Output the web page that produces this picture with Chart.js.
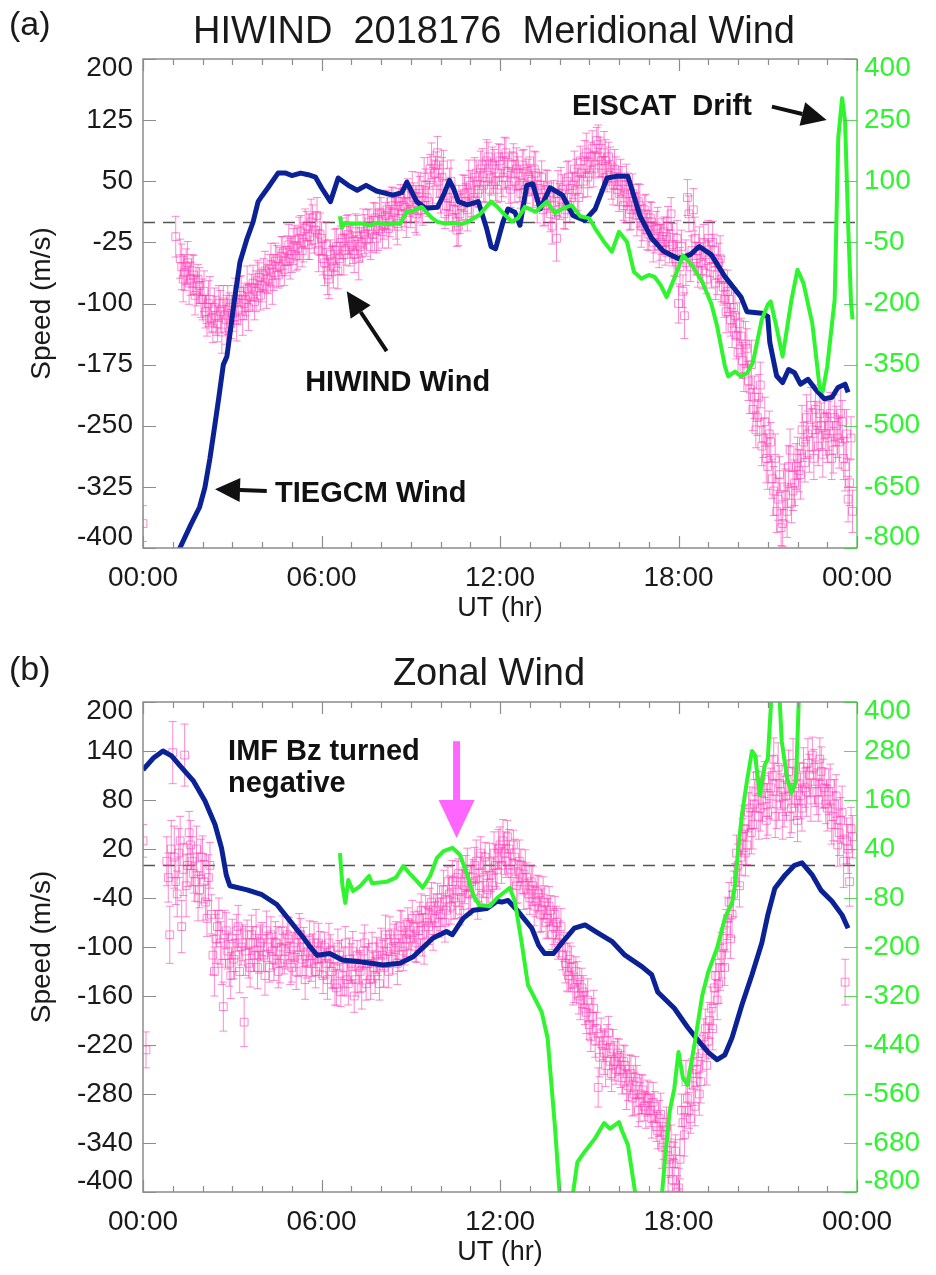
<!DOCTYPE html>
<html>
<head>
<meta charset="utf-8">
<title>HIWIND 2018176</title>
<script src="https://cdn.jsdelivr.net/npm/chart.js@4.4.1/dist/chart.umd.min.js"></script>
<style>
  body { margin: 0; background: #fff; font-family: "Liberation Sans", Arial, sans-serif; color: #1a1a1a; }
  #page { position: relative; width: 936px; height: 1275px; overflow: hidden; }
  canvas { position: absolute; left: 0; }
  .txt { position: absolute; line-height: 1; white-space: pre; }
</style>
</head>
<body>
<div id="page">
  <canvas id="chartA" width="936" height="640" style="top:0"></canvas>
  <canvas id="chartB" width="936" height="635" style="top:640px"></canvas>
  <div class="txt" style="left:9px;top:6px;font-size:34px">(a)</div>
  <div class="txt" style="left:494px;top:11px;font-size:38px;transform:translateX(-50%)">HIWIND  2018176  Meridional Wind</div>
  <div class="txt" style="left:9px;top:651px;font-size:34px">(b)</div>
  <div class="txt" style="left:489px;top:653px;font-size:38px;transform:translateX(-50%)">Zonal Wind</div>
</div>
<script>
// ---- data ----
// HIWIND samples: one row per hour, 10 values per row.
// first list at hh.0, hh.1 ... ; second list at the half steps hh.05, hh.15 ...
var HW_STEP = 0.1;

// (a) meridional
var hwA_speed = [
  -370, null, null, null, null, null, null, null, null, null,
  null, -18, null, -55, -62, -50, -70, -65, -85, -78,
  -95, -110, -100, -118, -105, -125, -110, -98, -120, -105,
  -112, -95, -108, -90, -100, -82, -92, -75, -85, -68,
  -78, -60, -70, -52, -62, -45, -55, -38, -48, -28,
  -40, -22, -32, -12, -25, -5, -18, 5, -10, -35,
  -20, -50, -65, -40, -55, -30, -45, -20, -35, -15,
  -28, -40, -18, -30, -8, -22, 0, -15, 5, -10,
  10, -5, 15, 0, 20, 5, 25, 10, 18, 35,
  15, 30, 10, 40, 20, 45, 25, 75, 60, 85,
  35, 70, 20, 40, 5, 25, -5, 20, 35, 15,
  45, 30, 60, 40, 70, 50, 80, 55, 65, 40,
  75, 55, 85, 45, 70, 50, 60, 35, 65, 45,
  75, 40, 60, 30, 55, 20, 45, 10, 35, -20,
  25, 40, 15, 55, 30, 65, 40, 75, 50, 85,
  60, 90, 70, 95, 75, 85, 55, 70, 45, 60,
  35, 50, 25, 40, 15, 30, 5, 20, -5, 10,
  -15, 0, -20, -8, -25, -12, -18, -30, -28, -45,
  -100, -30, -115, 30, -55, 15, -45, -30, -60, -40,
  -20, -55, -35, -65, -45, -80, -110, -95, -130, -115,
  -160, -140, -180, -155, -205, -230, -255, -215, -275, -245,
  -300, -270, -330, -355, -310, -370, -335, -300, -345, -320,
  -290, -310, -270, -240, -285, -255, -230, -275, -250, -240,
  -265, -235, -280, -250, -270, -245, -300, -340, -265, null
];
var hwA_speed_half = [
  null, null, null, null, null, null, null, null, null, null,
  null, null, -45, -70, -55, -75, -60, -90, -70, -95,
  -85, -120, -95, -130, -115, -100, -135, -115, -108, -125,
  -100, -120, -85, -115, -95, -105, -80, -98, -72, -90,
  -65, -82, -58, -75, -48, -65, -42, -58, -35, -45,
  -30, -42, -20, -35, -8, -28, 0, -22, 8, -15,
  -45, -28, -70, -48, -35, -60, -25, -40, -10, -30,
  -35, -12, -45, -25, -15, -5, -30, 2, -20, 12,
  -12, 8, -8, 25, 12, -2, 30, 20, 5, 25,
  40, 5, 35, 15, 55, 30, 65, 45, 70, 50,
  55, 10, 30, 50, 15, -10, 10, 40, 25, 50,
  25, 55, 35, 65, 45, 75, 40, 70, 50, 80,
  45, 80, 60, 40, 80, 65, 45, 70, 40, 55,
  50, 65, 25, 45, 15, 40, 30, -5, 20, 35,
  45, 10, 50, 20, 45, 55, 30, 60, 80, 55,
  80, 65, 100, 80, 60, 75, 80, 50, 65, 40,
  55, 20, 45, 10, 35, 20, 25, -5, 15, -10,
  5, -25, -5, -30, -18, -35, -5, 10, -40, -20,
  -55, -85, -50, 10, -35, -20, -60, -50, -25, -70,
  -45, -25, -75, -50, -70, -95, -85, -120, -105, -140,
  -125, -170, -150, -195, -175, -215, -240, -200, -265, -290,
  -260, -315, -290, -340, -375, -325, -355, -280, -330, -300,
  -305, -255, -295, -260, -225, -290, -250, -235, -285, -260,
  -250, -290, -240, -265, -235, -290, -260, -320, -355, null
];
var hwA_err = [
  22, 0, 0, 0, 0, 0, 0, 0, 0, 0,
  0, 25, 24, 28, 22, 26, 20, 24, 18, 22,
  25, 20, 28, 18, 24, 22, 26, 20, 30, 18,
  22, 26, 18, 24, 20, 28, 16, 22, 25, 18,
  20, 24, 18, 26, 22, 16, 24, 20, 18, 25,
  22, 18, 26, 20, 24, 18, 28, 16, 22, 26,
  20, 28, 24, 18, 26, 22, 20, 25, 18, 24,
  16, 22, 26, 18, 24, 20, 16, 22, 18, 25,
  20, 16, 24, 18, 22, 26, 16, 20, 24, 18,
  22, 18, 26, 16, 24, 20, 18, 22, 16, 20,
  24, 18, 22, 26, 16, 20, 24, 18, 22, 26,
  18, 24, 16, 22, 20, 26, 18, 22, 24, 16,
  20, 24, 18, 22, 16, 26, 20, 18, 24, 22,
  18, 22, 26, 16, 20, 24, 18, 22, 16, 28,
  22, 18, 24, 20, 16, 22, 26, 18, 20, 24,
  18, 22, 16, 24, 20, 26, 18, 22, 24, 20,
  22, 18, 26, 20, 24, 16, 22, 26, 18, 24,
  20, 24, 18, 26, 22, 18, 24, 20, 26, 22,
  24, 20, 28, 22, 18, 26, 20, 24, 22, 18,
  22, 26, 20, 24, 28, 22, 26, 20, 24, 28,
  26, 22, 28, 24, 30, 26, 22, 28, 24, 30,
  28, 24, 30, 26, 22, 28, 32, 26, 24, 28,
  26, 30, 24, 28, 22, 26, 30, 24, 28, 26,
  30, 26, 28, 24, 32, 26, 30, 28, 26, 0
];
var tgA_hour = [1.2, 1.24, 1.6, 1.9, 2.08, 2.25, 2.42, 2.55, 2.7, 2.82, 2.95, 3.06, 3.26, 3.5, 3.7,
  3.87, 4.0, 4.2, 4.54, 4.8, 5.0, 5.3, 5.55, 5.8, 6.0, 6.3, 6.56, 6.9, 7.2, 7.5, 7.85, 8.4, 8.7, 8.87,
  9.2, 9.5, 9.9, 10.1, 10.3, 10.45, 10.6, 10.9, 11.27, 11.55, 11.7, 11.85, 11.95, 12.1, 12.27, 12.5,
  12.67, 12.9, 13.1, 13.35, 13.68, 14.1, 14.45, 14.85, 15.2, 15.6, 15.9, 16.3, 16.7, 17.1, 17.5, 18.0,
  18.4, 18.7, 19.1, 19.56, 20.1, 20.3, 20.8, 21.0, 21.07, 21.3, 21.5, 21.7, 21.9, 22.1, 22.35, 22.6,
  22.9, 23.16, 23.36, 23.6, 23.7];
var tgA_speed = [-410, -400, -372, -350, -326, -290, -248, -215, -175, -165, -130, -99, -49, -20, 0,
  25, 32, 42, 60, 60, 57, 60, 58, 55, 42, 25, 54, 45, 39, 45, 38, 33, 36, 49,
  25, 17, 18, 33, 51, 40, 25, 21, 25, -8, -30, -33, -20, 0, 16, 12,
  -4, 45, 47, 16, 42, 33, 8, 2, 16, 54, 56, 56, 8, -20, -36, -45,
  -40, -30, -40, -67, -92, -110, -112, -116, -148, -189, -197, -181, -185, -199, -193, -205,
  -217, -215, -203, -199, -209];
var esA_hour = [6.62, 6.68, 6.8, 7.0, 7.3, 7.6, 7.9, 8.2, 8.5, 8.64, 8.87, 9.1, 9.37, 9.65, 9.9,
  10.2, 10.4, 10.7, 10.9, 11.3, 11.7, 11.9, 12.1, 12.4, 12.6, 12.84, 13.2, 13.57, 13.85, 14.1,
  14.4, 14.7, 15.0, 15.2, 15.5, 15.76, 16.0, 16.27, 16.5, 16.76, 17.0, 17.2, 17.4, 17.6, 17.9,
  18.15, 18.45, 18.8, 19.1, 19.3, 19.56, 19.67, 19.9, 20.1, 20.3, 20.5, 20.8, 21.0, 21.1, 21.3,
  21.5, 21.8, 22.0, 22.2, 22.5, 22.75, 22.85, 23.0, 23.25, 23.37, 23.5, 23.6, 23.7, 23.8, 23.85];
var esA_speed = [14, -14, -2, -5, -3, -8, -2, -6, -3, -5, 25, 28, 37, 14, 0,
  -4, -2, -5, 0, 17, 50, 38, 22, 1, 9, 37, 25, 50, 22, 33,
  41, 14, 9, -16, -49, -73, -24, -49, -122, -139, -130, -135, -155, -184, -131,
  -82, -106, -147, -200, -256, -354, -379, -367, -379, -371, -345, -239, -203, -195, -260,
  -330, -190, -117, -150, -250, -410, -415, -354, -190, 206, 304, 246, 0, -198, -239];
var yA_ticks = [200, 125, 50, -25, -100, -175, -250, -325, -400];
var yA_rticks = [400, 250, 100, -50, -200, -350, -500, -650, -800];

// (b) zonal
var hwB_speed = [
  30, -226, null, null, null, null, null, null, 5, -85,
  138, -20, 15, -75, 135, 0, 25, -10, 20, -30,
  10, -45, -15, -60, -130, -75, -95, -173, -80, -120,
  -90, -110, -75, -100, -192, -85, -125, -95, -80, -110,
  -90, -135, -100, -85, -115, -95, -120, -80, -105, -90,
  -125, -95, -110, -85, -100, -120, -90, -110, -130, -95,
  -115, -100, -140, -105, -125, -150, -110, -135, -95, -145,
  -120, -160, -110, -130, -105, -145, -120, -100, -135, -115,
  -95, -125, -105, -85, -115, -95, -110, -80, -100, -70,
  -90, -75, -95, -65, -85, -55, -75, -45, -65, -40,
  -60, -30, -55, -35, -20, -45, -10, -40, -25, -5,
  -35, -15, 5, -25, -8, 10, -30, -12, 15, -5,
  25, 30, 5, 20, -10, 10, -20, 0, -30, -15,
  -40, -25, -45, -35, -55, -45, -65, -55, -75, -70,
  -90, -110, -120, -135, -125, -150, -140, -165, -155, -180,
  -195, -185, -215, -272, -205, -230, -215, -240, -225, -250,
  -235, -260, -245, -270, -255, -280, -265, -290, -275, -300,
  -285, -310, -295, -325, -305, -340, -320, -360, -385, -350,
  -395, -300, -330, -285, -310, -270, -250, -280, -230, -200,
  -215, -175, -150, -165, -125, -100, -80, -45, -60, -20,
  0, 10, 45, 25, 70, 50, 90, 60, 80, 105,
  65, 95, 130, 75, 100, 60, 85, 115, 70, 95,
  55, 85, 120, 90, 110, 135, 100, 80, 115, 95,
  70, 100, 60, 85, 40, 65, -143, 20, 45, null
];
var hwB_speed_half = [
  null, null, null, null, null, null, null, null, -15, 20,
  10, -35, 30, -5, -25, 40, 5, -20, -40, 10,
  -20, -65, 0, -110, -90, -60, -120, -85, -105, -135,
  -115, -80, -130, -95, -105, -120, -85, -110, -125, -95,
  -110, -80, -125, -105, -95, -130, -100, -115, -85, -120,
  -100, -130, -85, -115, -140, -105, -120, -95, -115, -105,
  -135, -120, -95, -130, -145, -100, -155, -125, -140, -115,
  -105, -140, -125, -150, -95, -120, -140, -125, -110, -145,
  -110, -85, -130, -100, -90, -120, -75, -105, -90, -85,
  -65, -100, -80, -55, -95, -70, -50, -80, -55, -70,
  -45, -70, -20, -50, -40, -15, -55, -30, -10, -35,
  -20, 0, -40, 15, -15, -35, 5, -25, 0, 20,
  0, 15, 35, -5, 25, -25, 5, -15, -5, -35,
  -20, -50, -30, -60, -40, -70, -50, -85, -60, -95,
  -75, -100, -130, -115, -145, -130, -160, -150, -175, -165,
  -210, -175, -200, -235, -220, -245, -205, -255, -240, -230,
  -250, -240, -275, -250, -285, -260, -300, -280, -295, -285,
  -300, -290, -320, -310, -345, -330, -375, -340, -365, -400,
  -360, -315, -265, -300, -255, -295, -240, -265, -210, -245,
  -190, -200, -135, -145, -110, -125, -65, -90, -35, 15,
  -25, 35, 15, 65, 40, 75, 110, 70, 95, 55,
  85, 110, 60, 120, 90, 75, 105, 60, 125, 80,
  100, 70, 95, 125, 80, 120, 90, 130, 100, 75,
  90, 50, 75, 25, 55, 5, 30, -20, 35, null
];
var hwB_err = [
  20, 22, 0, 0, 0, 0, 0, 0, 30, 35,
  38, 28, 30, 32, 38, 26, 30, 24, 28, 22,
  26, 22, 28, 24, 30, 20, 26, 30, 22, 28,
  24, 20, 26, 22, 30, 18, 24, 20, 26, 22,
  20, 24, 18, 22, 26, 20, 24, 18, 22, 26,
  18, 22, 26, 20, 24, 18, 22, 26, 20, 24,
  22, 18, 24, 20, 26, 22, 18, 24, 20, 26,
  24, 20, 18, 26, 22, 20, 24, 18, 22, 20,
  18, 24, 20, 22, 18, 26, 20, 24, 22, 18,
  22, 18, 24, 20, 26, 18, 22, 24, 20, 18,
  20, 24, 18, 22, 26, 20, 18, 24, 22, 26,
  18, 22, 26, 20, 24, 18, 22, 20, 26, 24,
  22, 26, 20, 24, 18, 22, 26, 20, 24, 18,
  20, 24, 18, 22, 26, 20, 24, 18, 22, 20,
  22, 18, 24, 20, 26, 18, 22, 24, 20, 26,
  18, 22, 20, 24, 18, 26, 20, 22, 24, 18,
  22, 20, 24, 18, 22, 26, 20, 24, 18, 22,
  20, 24, 18, 22, 26, 20, 24, 22, 26, 20,
  24, 20, 26, 22, 18, 24, 20, 26, 22, 24,
  22, 26, 20, 24, 28, 22, 26, 24, 28, 22,
  26, 22, 28, 24, 26, 30, 24, 28, 26, 22,
  28, 24, 26, 30, 22, 28, 24, 26, 30, 24,
  26, 28, 24, 30, 26, 22, 28, 26, 30, 24,
  28, 24, 30, 26, 28, 32, 28, 30, 26, 0
];
var tgB_hour = [0, 0.34, 0.67, 0.96, 1.24, 1.7, 2.08, 2.42, 2.64, 2.8, 2.92, 3.5, 4.0, 4.5, 4.94,
  5.4, 5.6, 5.85, 6.28, 6.7, 7.3, 8.07, 8.64, 9.08, 9.4, 9.75, 10.2, 10.4, 10.76, 11.1,
  11.55, 11.9, 12.06, 12.27, 12.6, 13.07, 13.3, 13.5, 13.8, 14.08, 14.5, 14.86, 15.3, 15.76, 16.2,
  16.77, 17.1, 17.3, 17.86, 18.3, 18.65, 19.0, 19.3, 19.56, 19.8, 20.13, 20.47, 20.8, 21.0, 21.24,
  21.58, 21.9, 22.15, 22.5, 22.8, 23.16, 23.5, 23.7];
var tgB_speed = [117, 131, 140, 134, 122, 103, 79, 50, 21, -12, -25, -30, -36, -48, -68,
  -89, -99, -110, -108, -116, -118, -122, -120, -112, -101, -89, -81, -85, -65, -55,
  -53, -44, -45, -43, -56, -77, -98, -108, -108, -95, -77, -73, -83, -93, -110,
  -124, -134, -155, -175, -198, -214, -229, -238, -232, -211, -171, -134, -95, -61, -28,
  -12, 0, 3, -12, -31, -44, -61, -77];
var esB_hour = [6.62, 6.7, 6.8, 6.9, 7.06, 7.3, 7.6, 7.7, 8.2, 8.5, 8.75, 9.0, 9.2, 9.4, 9.65,
  9.88, 10.1, 10.4, 10.65, 10.9, 11.1, 11.3, 11.66, 11.9, 12.33, 12.5, 12.74, 12.94, 13.4, 13.6,
  13.85, 14.0, 14.2, 14.35, 14.46, 14.6, 14.86, 15.2, 15.5, 15.7, 16.0, 16.1, 16.3, 16.54, 16.8,
  17.3, 17.45, 17.55, 17.7, 17.86, 18.0, 18.15, 18.3, 18.55, 18.8, 19.0, 19.3, 19.56, 19.8, 19.9,
  20.0, 20.13, 20.3, 20.47, 20.57, 20.74, 20.9, 21.0, 21.13, 21.2, 21.35, 21.47, 21.65, 21.8, 21.95,
  22.05, 22.1];
var esB_speed = [30, -48, -92, -36, -63, -51, -26, -44, -40, -30, -2, -23, -38, -55, -26,
  18, 35, 43, 26, -23, -73, -97, -100, -80, -55, -88, -195, -293, -359, -423,
  -643, -800, -900, -900, -800, -727, -700, -668, -631, -645, -629, -650, -685, -800, -900,
  -900, -800, -717, -604, -546, -457, -521, -538, -433, -318, -261, -202, -129, -92, -48,
  35, 123, 206, 280, 270, 172, 246, 260, 420, 500, 480, 304, 214, 177, 206,
  420, 500];
var yB_ticks = [200, 140, 80, 20, -40, -100, -160, -220, -280, -340, -400];
var yB_rticks = [400, 280, 160, 40, -80, -200, -320, -440, -560, -680, -800];

// shared time axis
var x_ticks = [0, 6, 12, 18, 24];
var x_labels = ['00:00', '06:00', '12:00', '18:00', '00:00'];
var x_minorStep = 1;

// ---- styles ----
var PINK = 'rgba(255, 60, 180, 0.6)';
var BLUE = '#0b2196';
var GREEN = '#2ef52e';
var FRAME = '#8c8c8c';
var FONT = '"Liberation Sans", Arial, sans-serif';

function hiwindPoints(speed, half, err) {
  var pts = [];
  for (var i = 0; i < speed.length; i++) {
    var t = Math.round(i * HW_STEP * 10) / 10;
    if (speed[i] !== null) pts.push({x: t, y: speed[i], e: err[i]});
    if (half[i] !== null) pts.push({x: t + HW_STEP / 2, y: half[i], e: err[i]});
  }
  return pts;
}

function pairs(hours, speeds) {
  return hours.map(function (h, i) { return {x: h, y: speeds[i]}; });
}

function drawArrow(ctx, x1, y1, x2, y2, color, width, head, half) {
  var ang = Math.atan2(y2 - y1, x2 - x1);
  var bx = x2 - head * Math.cos(ang), by = y2 - head * Math.sin(ang);
  ctx.strokeStyle = color;
  ctx.fillStyle = color;
  ctx.lineWidth = width;
  ctx.beginPath();
  ctx.moveTo(x1, y1);
  ctx.lineTo(bx, by);
  ctx.stroke();
  ctx.beginPath();
  ctx.moveTo(x2, y2);
  ctx.lineTo(bx + half * Math.sin(ang), by - half * Math.cos(ang));
  ctx.lineTo(bx - half * Math.sin(ang), by + half * Math.cos(ang));
  ctx.closePath();
  ctx.fill();
}

// IDL-style box axes: inward ticks, labels, dashed zero line, error bars, notes
function idlAxes(spec) {
  return {
    id: 'idlAxes',
    beforeDatasetsDraw: function (chart) {
      var ctx = chart.ctx, a = chart.chartArea, x = chart.scales.x, y = chart.scales.y;
      ctx.save();
      ctx.beginPath();
      ctx.rect(a.left, a.top, a.right - a.left, a.bottom - a.top);
      ctx.clip();

      var y0 = Math.round(y.getPixelForValue(0)) + 0.5;
      ctx.strokeStyle = '#555';
      ctx.lineWidth = 1.4;
      ctx.setLineDash([12, 8]);
      ctx.beginPath();
      ctx.moveTo(a.left, y0);
      ctx.lineTo(a.right, y0);
      ctx.stroke();
      ctx.setLineDash([]);

      ctx.strokeStyle = PINK;
      ctx.lineWidth = 1;
      chart.data.datasets.forEach(function (ds) {
        if (!ds.errorBars) return;
        ds.data.forEach(function (p) {
          var px = x.getPixelForValue(p.x);
          var t = y.getPixelForValue(p.y + p.e), b = y.getPixelForValue(p.y - p.e);
          ctx.beginPath();
          ctx.moveTo(px, t); ctx.lineTo(px, b);
          ctx.moveTo(px - 4, t); ctx.lineTo(px + 4, t);
          ctx.moveTo(px - 4, b); ctx.lineTo(px + 4, b);
          ctx.stroke();
        });
      });
      ctx.restore();
    },
    afterDraw: function (chart) {
      var ctx = chart.ctx, a = chart.chartArea;
      var x = chart.scales.x, y = chart.scales.y, yR = chart.scales.yR;
      ctx.save();

      // frame
      ctx.lineWidth = 1.5;
      ctx.strokeStyle = FRAME;
      ctx.beginPath();
      ctx.moveTo(a.right, a.top);
      ctx.lineTo(a.left, a.top);
      ctx.lineTo(a.left, a.bottom);
      ctx.lineTo(a.right, a.bottom);
      ctx.stroke();
      ctx.strokeStyle = 'rgba(60, 200, 60, 0.8)';
      ctx.beginPath();
      ctx.moveTo(a.right, a.top);
      ctx.lineTo(a.right, a.bottom);
      ctx.stroke();

      // time ticks, top and bottom
      ctx.strokeStyle = FRAME;
      ctx.lineWidth = 1.2;
      ctx.beginPath();
      for (var h = x.min; h <= x.max; h += x_minorStep) {
        var px = Math.round(x.getPixelForValue(h)) + 0.5;
        var len = x_ticks.indexOf(h) >= 0 ? 12 : 6;
        ctx.moveTo(px, a.bottom); ctx.lineTo(px, a.bottom - len);
        ctx.moveTo(px, a.top); ctx.lineTo(px, a.top + len);
      }
      ctx.stroke();

      // speed ticks
      ctx.beginPath();
      spec.yTicks.forEach(function (v) {
        var py = Math.round(y.getPixelForValue(v)) + 0.5;
        ctx.moveTo(a.left, py); ctx.lineTo(a.left + 13, py);
      });
      ctx.stroke();
      ctx.strokeStyle = 'rgba(60, 200, 60, 0.8)';
      ctx.beginPath();
      spec.yRTicks.forEach(function (v) {
        var py = Math.round(yR.getPixelForValue(v)) + 0.5;
        ctx.moveTo(a.right, py); ctx.lineTo(a.right - 13, py);
      });
      ctx.stroke();

      // tick labels
      function clampY(py) { return Math.min(Math.max(py, a.top + 9), a.bottom - 11); }
      ctx.font = '28px ' + FONT;
      ctx.textBaseline = 'middle';
      ctx.fillStyle = '#1a1a1a';
      ctx.textAlign = 'right';
      spec.yTicks.forEach(function (v) {
        ctx.fillText(String(v), a.left - 10, clampY(y.getPixelForValue(v)));
      });
      ctx.fillStyle = GREEN;
      ctx.textAlign = 'left';
      spec.yRTicks.forEach(function (v) {
        ctx.fillText(String(v), a.right + 7, clampY(yR.getPixelForValue(v)));
      });
      ctx.fillStyle = '#1a1a1a';
      ctx.textAlign = 'center';
      x_ticks.forEach(function (h, i) {
        ctx.fillText(x_labels[i], x.getPixelForValue(h), a.bottom + 30);
      });

      // axis titles
      ctx.font = '27px ' + FONT;
      ctx.fillText('UT (hr)', (a.left + a.right) / 2, a.bottom + 61);
      ctx.save();
      ctx.translate(42, (a.top + a.bottom) / 2);
      ctx.rotate(-Math.PI / 2);
      ctx.font = '28px ' + FONT;
      ctx.fillText('Speed (m/s)', 0, 0);
      ctx.restore();

      // notes and arrows, placed in data units
      ctx.font = 'bold 29px ' + FONT;
      ctx.textAlign = 'left';
      ctx.textBaseline = 'alphabetic';
      ctx.fillStyle = '#111';
      spec.notes.forEach(function (n) {
        ctx.fillText(n.text, x.getPixelForValue(n.h), y.getPixelForValue(n.v));
      });
      spec.arrows.forEach(function (r) {
        drawArrow(ctx, x.getPixelForValue(r.h1), y.getPixelForValue(r.v1),
          x.getPixelForValue(r.h2), y.getPixelForValue(r.v2),
          r.color || '#111', r.width || 4, r.head || 25, r.half || 12);
      });
      ctx.restore();
    }
  };
}

function makeChart(id, spec) {
  var ctx = document.getElementById(id).getContext('2d');
  return new Chart(ctx, {
    type: 'scatter',
    data: {
      datasets: [{
        label: 'EISCAT Drift',
        data: pairs(spec.esHour, spec.esSpeed),
        yAxisID: 'yR',
        showLine: true,
        borderColor: GREEN,
        borderWidth: 4,
        borderJoinStyle: 'round',
        pointRadius: 0,
        clip: 0,
        order: 0
      }, {
        label: 'TIEGCM Wind',
        data: pairs(spec.tgHour, spec.tgSpeed),
        yAxisID: 'y',
        showLine: true,
        borderColor: BLUE,
        borderWidth: 5,
        borderJoinStyle: 'round',
        pointRadius: 0,
        clip: 0,
        order: 1
      }, {
        label: 'HIWIND Wind',
        data: hiwindPoints(spec.hwSpeed, spec.hwHalf, spec.hwErr),
        errorBars: true,
        yAxisID: 'y',
        pointStyle: 'rect',
        pointRadius: 5.5,
        borderWidth: 1,
        borderColor: PINK,
        backgroundColor: 'rgba(0,0,0,0)',
        clip: 0,
        order: 2
      }]
    },
    options: {
      responsive: false,
      animation: false,
      devicePixelRatio: 1,
      events: [],
      layout: {padding: {top: spec.top, left: 0, right: 0, bottom: 0}},
      plugins: {legend: {display: false}, tooltip: {enabled: false}},
      scales: {
        x: {
          type: 'linear', min: 0, max: 24,
          grid: {display: false}, border: {display: false}, ticks: {display: false},
          afterFit: function (s) { s.height = spec.xHeight; }
        },
        y: {
          position: 'left', min: -400, max: 200,
          grid: {display: false}, border: {display: false}, ticks: {display: false},
          afterFit: function (s) { s.width = 143; }
        },
        yR: {
          position: 'right', min: -800, max: 400,
          grid: {display: false}, border: {display: false}, ticks: {display: false},
          afterFit: function (s) { s.width = 79; }
        }
      }
    },
    plugins: [idlAxes(spec)]
  });
}

makeChart('chartA', {
  hwSpeed: hwA_speed, hwHalf: hwA_speed_half, hwErr: hwA_err,
  tgHour: tgA_hour, tgSpeed: tgA_speed,
  esHour: esA_hour, esSpeed: esA_speed,
  yTicks: yA_ticks, yRTicks: yA_rticks,
  top: 59, xHeight: 92,
  notes: [
    {text: 'EISCAT  Drift', h: 14.42, v: 131.4},
    {text: 'HIWIND Wind', h: 5.45, v: -207.5},
    {text: 'TIEGCM Wind', h: 4.44, v: -343.5}
  ],
  arrows: [
    {h1: 21.14, v1: 141.6, h2: 22.98, v2: 125.3},
    {h1: 8.19, v1: -158.4, h2: 6.85, v2: -84.9},
    {h1: 4.16, v1: -330, h2: 2.42, v2: -328}
  ]
});

makeChart('chartB', {
  hwSpeed: hwB_speed, hwHalf: hwB_speed_half, hwErr: hwB_err,
  tgHour: tgB_hour, tgSpeed: tgB_speed,
  esHour: esB_hour, esSpeed: esB_speed,
  yTicks: yB_ticks, yRTicks: yB_rticks,
  top: 62, xHeight: 83,
  notes: [
    {text: 'IMF Bz turned', h: 2.86, v: 129.3},
    {text: 'negative', h: 2.86, v: 89.8}
  ],
  arrows: [
    {h1: 10.54, v1: 152, h2: 10.54, v2: 33.5, color: '#ff66ff', width: 7, head: 38, half: 18}
  ]
});
</script>
</body>
</html>
